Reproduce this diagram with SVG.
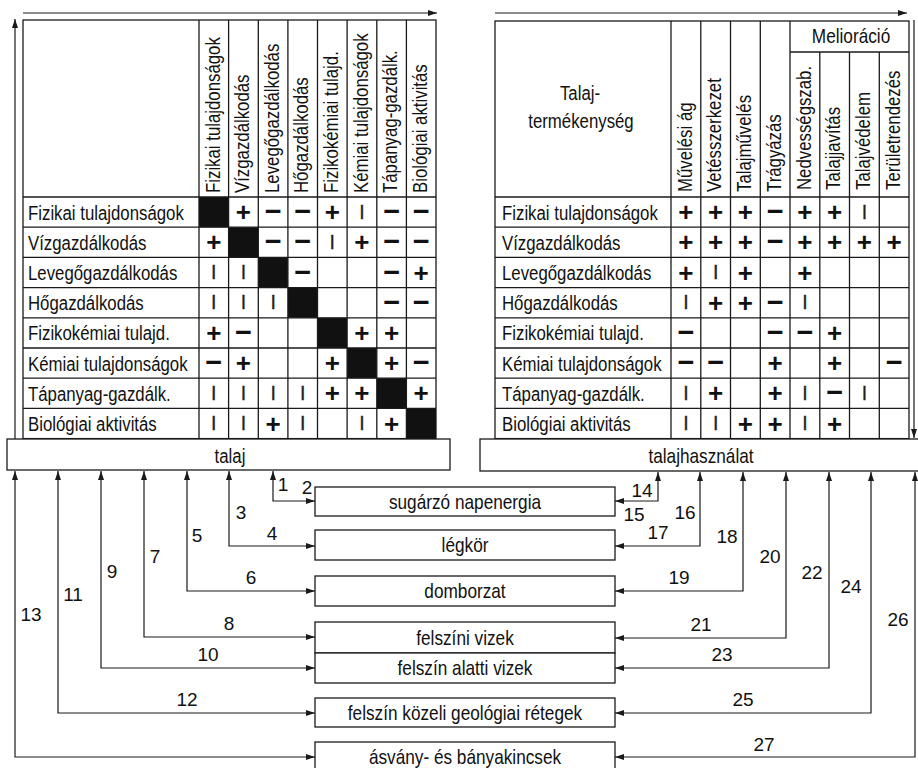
<svg xmlns="http://www.w3.org/2000/svg" width="918" height="768" viewBox="0 0 918 768">
<defs>
<style>
.ln{stroke:#1a1a1a;stroke-width:1.3;fill:none}
.bx{fill:#fff;stroke:#1a1a1a;stroke-width:1.3}
.blk{fill:#111}
.t{font-family:"Liberation Sans",Arial,sans-serif;font-size:21px;fill:#111}
.tm{text-anchor:middle}
.n{font-family:"Liberation Sans",Arial,sans-serif;font-size:19px;fill:#111;text-anchor:middle}
.s{font-family:"Liberation Sans",Arial,sans-serif;font-size:26px;font-weight:bold;fill:#111;text-anchor:middle}
.m{font-size:29px}
.b{font-family:"Liberation Sans",Arial,sans-serif;font-size:14px;font-weight:bold;fill:#222;stroke:#222;stroke-width:0.3;text-anchor:middle}
.cn{fill:none;stroke:#1a1a1a;stroke-width:1.2;marker-start:url(#ah);marker-end:url(#ah)}
.ar{fill:none;stroke:#1a1a1a;stroke-width:1.2;marker-end:url(#ah)}
</style>
<marker id="ah" viewBox="0 0 9 6" refX="9" refY="3" markerWidth="9" markerHeight="6" markerUnits="userSpaceOnUse" orient="auto-start-reverse"><path d="M0,0 L9,3 L0,6 z" fill="#1a1a1a"/></marker>
</defs>
<rect width="918" height="768" fill="#fff"/>

<g id="axes">
<path class="ar" d="M23,13 H437"/>
<path class="ar" d="M15,439 V19"/>
<path class="ar" d="M495,13 H907"/>
<path class="ar" d="M914,20 V438"/>
</g>

<g id="left-table">
<rect class="bx" x="23" y="20" width="413" height="418.6"/>
<rect class="blk" x="199" y="197" width="29.6" height="30.2"/>
<rect class="blk" x="228.6" y="227.2" width="29.7" height="30.2"/>
<rect class="blk" x="258.3" y="257.4" width="29.6" height="30.2"/>
<rect class="blk" x="287.9" y="287.6" width="29.6" height="30.2"/>
<rect class="blk" x="317.5" y="317.8" width="29.6" height="30.2"/>
<rect class="blk" x="347.1" y="348" width="29.7" height="30.2"/>
<rect class="blk" x="376.8" y="378.2" width="29.6" height="30.2"/>
<rect class="blk" x="406.4" y="408.4" width="29.6" height="30.2"/>
<path class="ln" d="M199,20 V438.6 M228.6,20 V438.6 M258.3,20 V438.6 M287.9,20 V438.6 M317.5,20 V438.6 M347.1,20 V438.6 M376.8,20 V438.6 M406.4,20 V438.6"/>
<path class="ln" d="M23,197 H436 M23,227.2 H436 M23,257.4 H436 M23,287.6 H436 M23,317.8 H436 M23,348 H436 M23,378.2 H436 M23,408.4 H436"/>
<text class="t" transform="translate(219.5,193) rotate(-90) scale(0.8,1)">Fizikai tulajdonságok</text>
<text class="t" transform="translate(249.1,193) rotate(-90) scale(0.8,1)">Vízgazdálkodás</text>
<text class="t" transform="translate(278.8,193) rotate(-90) scale(0.8,1)">Levegőgazdálkodás</text>
<text class="t" transform="translate(308.4,193) rotate(-90) scale(0.8,1)">Hőgazdálkodás</text>
<text class="t" transform="translate(338,193) rotate(-90) scale(0.8,1)">Fizikokémiai tulajd.</text>
<text class="t" transform="translate(367.6,193) rotate(-90) scale(0.8,1)">Kémiai tulajdonságok</text>
<text class="t" transform="translate(397.3,193) rotate(-90) scale(0.8,1)">Tápanyag-gazdálk.</text>
<text class="t" transform="translate(426.9,193) rotate(-90) scale(0.8,1)">Biológiai aktivitás</text>
<text class="t" transform="translate(28,219.5) scale(0.8,1)">Fizikai tulajdonságok</text>
<text class="t" transform="translate(28,249.7) scale(0.8,1)">Vízgazdálkodás</text>
<text class="t" transform="translate(28,279.9) scale(0.8,1)">Levegőgazdálkodás</text>
<text class="t" transform="translate(28,310.1) scale(0.8,1)">Hőgazdálkodás</text>
<text class="t" transform="translate(28,340.3) scale(0.8,1)">Fizikokémiai tulajd.</text>
<text class="t" transform="translate(28,370.5) scale(0.8,1)">Kémiai tulajdonságok</text>
<text class="t" transform="translate(28,400.7) scale(0.8,1)">Tápanyag-gazdálk.</text>
<text class="t" transform="translate(28,430.9) scale(0.8,1)">Biológiai aktivitás</text>
<!-- row 1 -->
<text class="s" x="243.4" y="221.1">+</text><text class="s m" x="273.1" y="221.1">−</text><text class="s m" x="302.7" y="221.1">−</text><text class="s" x="332.3" y="221.1">+</text><text class="b" x="361.9" y="215.7">|</text><text class="s m" x="391.6" y="221.1">−</text><text class="s m" x="421.2" y="221.1">−</text>
<!-- row 2 -->
<text class="s" x="213.8" y="251.3">+</text><text class="s m" x="273.1" y="251.3">−</text><text class="s m" x="302.7" y="251.3">−</text><text class="b" x="332.3" y="245.9">|</text><text class="s" x="361.9" y="251.3">+</text><text class="s m" x="391.6" y="251.3">−</text><text class="s m" x="421.2" y="251.3">−</text>
<!-- row 3 -->
<text class="b" x="213.8" y="276.1">|</text><text class="b" x="243.4" y="276.1">|</text><text class="s m" x="302.7" y="281.5">−</text><text class="s m" x="391.6" y="281.5">−</text><text class="s" x="421.2" y="281.5">+</text>
<!-- row 4 -->
<text class="b" x="213.8" y="306.3">|</text><text class="b" x="243.4" y="306.3">|</text><text class="b" x="273.1" y="306.3">|</text><text class="s m" x="391.6" y="311.7">−</text><text class="s m" x="421.2" y="311.7">−</text>
<!-- row 5 -->
<text class="s" x="213.8" y="341.9">+</text><text class="s m" x="243.4" y="341.9">−</text><text class="s" x="361.9" y="341.9">+</text><text class="s" x="391.6" y="341.9">+</text>
<!-- row 6 -->
<text class="s m" x="213.8" y="372.1">−</text><text class="s" x="243.4" y="372.1">+</text><text class="s" x="332.3" y="372.1">+</text><text class="s" x="391.6" y="372.1">+</text><text class="s m" x="421.2" y="372.1">−</text>
<!-- row 7 -->
<text class="b" x="213.8" y="396.9">|</text><text class="b" x="243.4" y="396.9">|</text><text class="b" x="273.1" y="396.9">|</text><text class="b" x="302.7" y="396.9">|</text><text class="s" x="332.3" y="402.3">+</text><text class="s" x="361.9" y="402.3">+</text><text class="s" x="421.2" y="402.3">+</text>
<!-- row 8 -->
<text class="b" x="213.8" y="427.1">|</text><text class="b" x="243.4" y="427.1">|</text><text class="s" x="273.1" y="432.5">+</text><text class="b" x="302.7" y="427.1">|</text><text class="b" x="361.9" y="427.1">|</text><text class="s" x="391.6" y="432.5">+</text>
</g>

<g id="right-table">
<rect class="bx" x="495" y="21" width="414" height="417.6"/>
<path class="ln" d="M671,21 V438.6 M700.8,21 V438.6 M730.5,21 V438.6 M760.3,21 V438.6 M790,21 V438.6 M819.8,52 V438.6 M849.5,52 V438.6 M879.3,52 V438.6 M790,52 H909"/>
<path class="ln" d="M495,197 H909 M495,227.2 H909 M495,257.4 H909 M495,287.6 H909 M495,317.8 H909 M495,348 H909 M495,378.2 H909 M495,408.4 H909"/>
<text class="t tm" transform="translate(580,100) scale(0.8,1)">Talaj-</text>
<text class="t tm" transform="translate(581,128) scale(0.8,1)">termékenység</text>
<text class="t tm" transform="translate(851,43) scale(0.82,1)">Melioráció</text>
<text class="t" transform="translate(691.5,192) rotate(-90) scale(0.8,1)">Művelési ág</text>
<text class="t" transform="translate(721.3,192) rotate(-90) scale(0.8,1)">Vetésszerkezet</text>
<text class="t" transform="translate(751,192) rotate(-90) scale(0.8,1)">Talajművelés</text>
<text class="t" transform="translate(780.8,192) rotate(-90) scale(0.8,1)">Trágyázás</text>
<text class="t" transform="translate(810.5,190) rotate(-90) scale(0.8,1)">Nedvességszab.</text>
<text class="t" transform="translate(840.3,190) rotate(-90) scale(0.8,1)">Talajjavítás</text>
<text class="t" transform="translate(870,190) rotate(-90) scale(0.8,1)">Talajvédelem</text>
<text class="t" transform="translate(899.8,190) rotate(-90) scale(0.8,1)">Területrendezés</text>
<text class="t" transform="translate(502,219.5) scale(0.8,1)">Fizikai tulajdonságok</text>
<text class="t" transform="translate(502,249.7) scale(0.8,1)">Vízgazdálkodás</text>
<text class="t" transform="translate(502,279.9) scale(0.8,1)">Levegőgazdálkodás</text>
<text class="t" transform="translate(502,310.1) scale(0.8,1)">Hőgazdálkodás</text>
<text class="t" transform="translate(502,340.3) scale(0.8,1)">Fizikokémiai tulajd.</text>
<text class="t" transform="translate(502,370.5) scale(0.8,1)">Kémiai tulajdonságok</text>
<text class="t" transform="translate(502,400.7) scale(0.8,1)">Tápanyag-gazdálk.</text>
<text class="t" transform="translate(502,430.9) scale(0.8,1)">Biológiai aktivitás</text>
<!-- row 1 -->
<text class="s" x="685.9" y="221.1">+</text><text class="s" x="715.6" y="221.1">+</text><text class="s" x="745.4" y="221.1">+</text><text class="s m" x="775.1" y="221.1">−</text><text class="s" x="804.9" y="221.1">+</text><text class="s" x="834.6" y="221.1">+</text><text class="b" x="864.4" y="215.7">|</text>
<!-- row 2 -->
<text class="s" x="685.9" y="251.3">+</text><text class="s" x="715.6" y="251.3">+</text><text class="s" x="745.4" y="251.3">+</text><text class="s m" x="775.1" y="251.3">−</text><text class="s" x="804.9" y="251.3">+</text><text class="s" x="834.6" y="251.3">+</text><text class="s" x="864.4" y="251.3">+</text><text class="s" x="894.1" y="251.3">+</text>
<!-- row 3 -->
<text class="s" x="685.9" y="281.5">+</text><text class="b" x="715.6" y="276.1">|</text><text class="s" x="745.4" y="281.5">+</text><text class="s" x="804.9" y="281.5">+</text>
<!-- row 4 -->
<text class="b" x="685.9" y="306.3">|</text><text class="s" x="715.6" y="311.7">+</text><text class="s" x="745.4" y="311.7">+</text><text class="s m" x="775.1" y="311.7">−</text><text class="b" x="804.9" y="306.3">|</text>
<!-- row 5 -->
<text class="s m" x="685.9" y="341.9">−</text><text class="s m" x="775.1" y="341.9">−</text><text class="s m" x="804.9" y="341.9">−</text><text class="s" x="834.6" y="341.9">+</text>
<!-- row 6 -->
<text class="s m" x="685.9" y="372.1">−</text><text class="s m" x="715.6" y="372.1">−</text><text class="s" x="775.1" y="372.1">+</text><text class="s" x="834.6" y="372.1">+</text><text class="s m" x="894.1" y="372.1">−</text>
<!-- row 7 -->
<text class="b" x="685.9" y="396.9">|</text><text class="s" x="715.6" y="402.3">+</text><text class="s" x="775.1" y="402.3">+</text><text class="b" x="804.9" y="396.9">|</text><text class="s m" x="834.6" y="402.3">−</text><text class="b" x="864.4" y="396.9">|</text>
<!-- row 8 -->
<text class="b" x="685.9" y="427.1">|</text><text class="b" x="715.6" y="427.1">|</text><text class="s" x="745.4" y="432.5">+</text><text class="s" x="775.1" y="432.5">+</text><text class="b" x="804.9" y="427.1">|</text><text class="s" x="834.6" y="432.5">+</text>
</g>

<g id="talaj"><rect class="bx" x="7" y="439" width="443" height="31"/><text class="t tm" transform="translate(230,463) scale(0.8,1)">talaj</text></g>
<g id="talajhasznalat"><rect class="bx" x="480" y="439" width="445" height="32"/><text class="t tm" transform="translate(701,463) scale(0.82,1)">talajhasználat</text></g>
<g id="sugarzo-napenergia"><rect class="bx" x="315" y="487" width="300" height="29"/><text class="t tm" transform="translate(465,508.5) scale(0.82,1)">sugárzó napenergia</text></g>
<g id="legkor"><rect class="bx" x="315" y="530" width="300" height="30"/><text class="t tm" transform="translate(465,552) scale(0.82,1)">légkör</text></g>
<g id="domborzat"><rect class="bx" x="315" y="576" width="300" height="30"/><text class="t tm" transform="translate(465,598) scale(0.82,1)">domborzat</text></g>
<g id="felszini-vizek"><rect class="bx" x="315" y="622" width="300" height="31"/><text class="t tm" transform="translate(465,644.5) scale(0.82,1)">felszíni vizek</text></g>
<g id="felszin-alatti-vizek"><rect class="bx" x="315" y="653" width="300" height="30"/><text class="t tm" transform="translate(465,675) scale(0.82,1)">felszín alatti vizek</text></g>
<g id="felszin-kozeli-retegek"><rect class="bx" x="315" y="698" width="300" height="29"/><text class="t tm" transform="translate(465,719.5) scale(0.82,1)">felszín közeli geológiai rétegek</text></g>
<g id="asvany-banyakincsek"><rect class="bx" x="315" y="742" width="300" height="30"/><text class="t tm" transform="translate(465,763.5) scale(0.82,1)">ásvány- és bányakincsek</text></g>

<g id="connectors">
<path class="cn" d="M273,471 V501 H315"/>
<path class="cn" d="M229,471 V546 H315"/>
<path class="cn" d="M187,471 V591 H315"/>
<path class="cn" d="M144,471 V637 H315"/>
<path class="cn" d="M101,471 V668 H315"/>
<path class="cn" d="M58,471 V713 H315"/>
<path class="cn" d="M15,471 V757 H315"/>
<path class="cn" d="M658,472 V501 H615"/>
<path class="cn" d="M700,472 V546 H615"/>
<path class="cn" d="M743,472 V591 H615"/>
<path class="cn" d="M786,472 V638 H615"/>
<path class="cn" d="M829,472 V668 H615"/>
<path class="cn" d="M871,472 V713 H615"/>
<path class="cn" d="M915,472 V757 H615"/>
</g>
<g id="connector-labels">
<text class="n" x="283" y="490.5">1</text>
<text class="n" x="307" y="493.5">2</text>
<text class="n" x="241" y="518.8">3</text>
<text class="n" x="272" y="539.8">4</text>
<text class="n" x="197" y="541.8">5</text>
<text class="n" x="251" y="583.8">6</text>
<text class="n" x="155" y="562.8">7</text>
<text class="n" x="229" y="629.8">8</text>
<text class="n" x="112" y="577.8">9</text>
<text class="n" x="208" y="660.8">10</text>
<text class="n" x="73" y="600.8">11</text>
<text class="n" x="187" y="705.8">12</text>
<text class="n" x="31" y="620.8">13</text>
<text class="n" x="642" y="496.8">14</text>
<text class="n" x="634" y="520.8">15</text>
<text class="n" x="685" y="518.8">16</text>
<text class="n" x="658" y="538.8">17</text>
<text class="n" x="727" y="542.8">18</text>
<text class="n" x="679" y="583.8">19</text>
<text class="n" x="770" y="562.8">20</text>
<text class="n" x="701" y="630.8">21</text>
<text class="n" x="812" y="578.8">22</text>
<text class="n" x="722" y="660.8">23</text>
<text class="n" x="851" y="592.8">24</text>
<text class="n" x="743" y="705.8">25</text>
<text class="n" x="898" y="625.8">26</text>
<text class="n" x="764" y="750.8">27</text>
</g>
</svg>
